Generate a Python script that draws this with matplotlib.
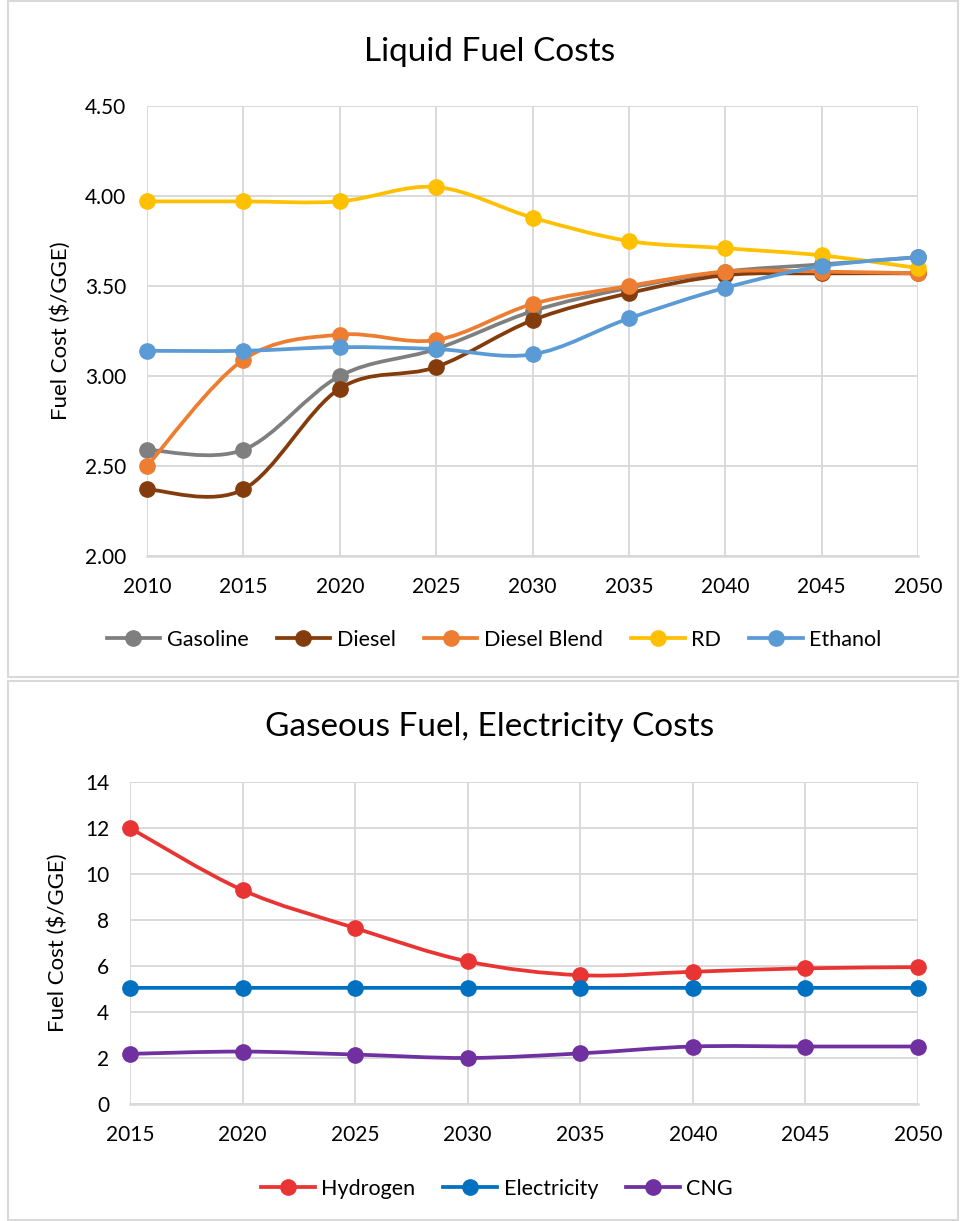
import numpy as np
import matplotlib
matplotlib.use("Agg")
import matplotlib.pyplot as plt
from matplotlib.path import Path
from matplotlib.patches import PathPatch, Rectangle
from matplotlib.lines import Line2D
from matplotlib.ticker import FormatStrFormatter

plt.rcParams['font.family'] = ['Lato', 'DejaVu Sans']

# liquid fuels, $/GGE
years_liquid = [2010, 2015, 2020, 2025, 2030, 2035, 2040, 2045, 2050]
gasoline = [2.59, 2.59, 3.00, 3.15, 3.36, 3.49, 3.58, 3.62, 3.66]
diesel = [2.37, 2.37, 2.93, 3.05, 3.31, 3.46, 3.56, 3.57, 3.57]
diesel_blend = [2.50, 3.09, 3.23, 3.20, 3.40, 3.50, 3.58, 3.58, 3.57]
rd = [3.97, 3.97, 3.97, 4.05, 3.88, 3.75, 3.71, 3.67, 3.60]
ethanol = [3.14, 3.14, 3.16, 3.15, 3.12, 3.32, 3.49, 3.61, 3.66]

# gaseous fuels and electricity, $/GGE
years_gas = [2015, 2020, 2025, 2030, 2035, 2040, 2045, 2050]
hydrogen = [12.0, 9.3, 7.65, 6.2, 5.6, 5.75, 5.9, 5.95]
electricity = [5.05, 5.05, 5.05, 5.05, 5.05, 5.05, 5.05, 5.05]
cng = [2.18, 2.28, 2.15, 2.0, 2.2, 2.5, 2.5, 2.5]

liquid = [("Gasoline", gasoline, "#7F7F7F"),
          ("Diesel", diesel, "#843C0C"),
          ("Diesel Blend", diesel_blend, "#ED7D31"),
          ("RD", rd, "#FFC000"),
          ("Ethanol", ethanol, "#5B9BD5")]
gaseous = [("Hydrogen", hydrogen, "#E93434"),
           ("Electricity", electricity, "#0070C0"),
           ("CNG", cng, "#7030A0")]

GRID = "#D9D9D9"
LW = 2.7
MS = 11
TICK_FS = 15
LEG_FS = 15.5


def smooth_path(x, y):
    # catmull-rom style bezier through the points
    x = np.asarray(x, float)
    y = np.asarray(y, float)
    verts = [(x[0], y[0])]
    codes = [Path.MOVETO]
    n = len(x)
    for i in range(n - 1):
        x0, y0 = (x[i - 1], y[i - 1]) if i > 0 else (x[i], y[i])
        x3, y3 = (x[i + 2], y[i + 2]) if i + 2 < n else (x[i + 1], y[i + 1])
        c1 = (x[i] + (x[i + 1] - x0) / 6, y[i] + (y[i + 1] - y0) / 6)
        c2 = (x[i + 1] - (x3 - x[i]) / 6, y[i + 1] - (y3 - y[i]) / 6)
        verts += [c1, c2, (x[i + 1], y[i + 1])]
        codes += [Path.CURVE4] * 3
    return Path(verts, codes)


def draw_series(ax, x, y, color, smooth=True):
    if smooth:
        ax.add_patch(PathPatch(smooth_path(x, y), fill=False, edgecolor=color,
                               lw=LW, capstyle='round', zorder=3))
    else:
        ax.plot(x, y, color=color, lw=LW, zorder=3)
    ax.plot(x, y, ls='none', marker='o', ms=MS, color=color, zorder=4,
            clip_on=False)


def style_axes(ax):
    ax.grid(True, color=GRID, lw=1.4)
    ax.set_axisbelow(True)
    for s in ['top', 'right', 'left']:
        ax.spines[s].set_visible(False)
    ax.spines['bottom'].set_color(GRID)
    ax.spines['bottom'].set_linewidth(1.8)
    ax.tick_params(length=0, labelsize=TICK_FS, pad=15)


def legend_handles(series):
    return [Line2D([0], [0], color=c, lw=LW, marker='o', ms=MS) for _, _, c in series]


fig = plt.figure(figsize=(9.6, 12.21), dpi=100)

# panel borders
fig.patches.append(Rectangle((8 / 960, 1 - 677 / 1221), 950 / 960, 676 / 1221,
                             transform=fig.transFigure, fill=False, ec=GRID, lw=1.5))
fig.patches.append(Rectangle((8 / 960, 0.001), 950 / 960, 1 - 681 / 1221 - 0.001,
                             transform=fig.transFigure, fill=False, ec=GRID, lw=1.5))

# liquid fuel chart
ax1 = fig.add_axes([147 / 960, 1 - 556 / 1221, 771 / 960, 450 / 1221])
style_axes(ax1)
for name, vals, color in liquid:
    draw_series(ax1, years_liquid, vals, color)
ax1.set_xlim(2010, 2050)
ax1.set_ylim(2.0, 4.5)
ax1.set_xticks(years_liquid)
ax1.set_yticks(np.arange(2.0, 4.51, 0.5))
ax1.yaxis.set_major_formatter(FormatStrFormatter('%.2f'))
ax1.set_ylabel("Fuel Cost ($/GGE)", fontsize=16, labelpad=10)
fig.text(490 / 960, 1 - 52 / 1221, "Liquid Fuel Costs", fontsize=24,
         ha='center', va='center')
fig.legend(legend_handles(liquid), [s[0] for s in liquid], loc='center',
           bbox_to_anchor=(494 / 960, 1 - 640 / 1221), ncol=5, frameon=False,
           fontsize=LEG_FS, handlelength=2.5, columnspacing=1.3, handletextpad=0.3)

# gaseous fuel / electricity chart
ax2 = fig.add_axes([130 / 960, 1 - 1104 / 1221, 788 / 960, 322 / 1221])
style_axes(ax2)
for name, vals, color in gaseous:
    draw_series(ax2, years_gas, vals, color)
ax2.set_xlim(2015, 2050)
ax2.set_ylim(0, 14)
ax2.set_xticks(years_gas)
ax2.set_yticks(range(0, 15, 2))
ax2.set_ylabel("Fuel Cost ($/GGE)", fontsize=16, labelpad=12)
fig.text(490 / 960, 1 - 727 / 1221, "Gaseous Fuel, Electricity Costs", fontsize=24,
         ha='center', va='center')
fig.legend(legend_handles(gaseous), [s[0] for s in gaseous], loc='center',
           bbox_to_anchor=(497 / 960, 1 - 1189 / 1221), ncol=3, frameon=False,
           fontsize=LEG_FS, handlelength=2.5, columnspacing=1.3, handletextpad=0.3)

fig.savefig("out.png", dpi=100)
